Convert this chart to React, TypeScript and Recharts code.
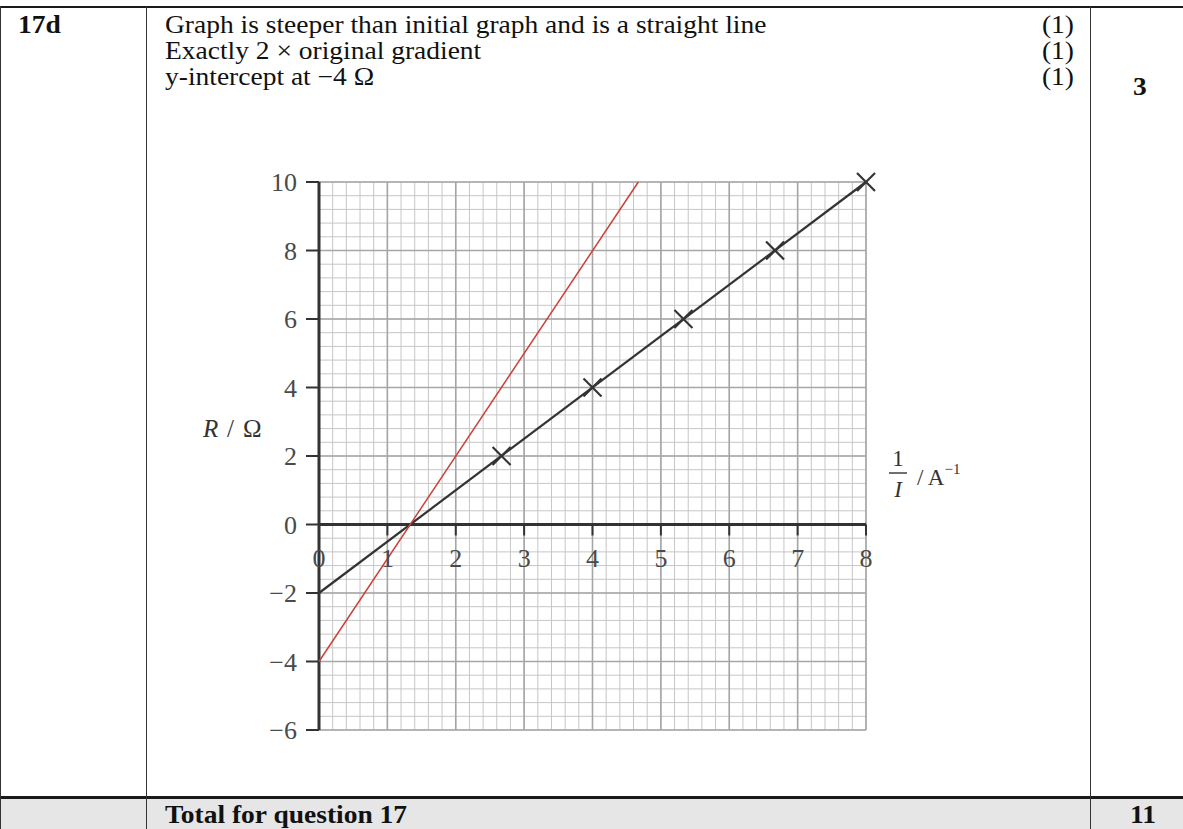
import React from 'react'
import { ComposedChart, XAxis, YAxis, Scatter, ReferenceLine, ReferenceDot } from 'recharts'

const invCurrent = [2.67, 4, 5.33, 6.67, 8]
const resistance = [2, 4, 6, 8, 10]

// original best-fit line (end points)
const originalX = [0, 8]
const originalR = [-2, 10]

// new line: twice the gradient, intercept at -4
const steeperX = [0, 4.67]
const steeperR = [-4, 10]

const xTicks = [0, 1, 2, 3, 4, 5, 6, 7, 8]
const yTicks = [-6, -4, -2, 0, 2, 4, 6, 8, 10]

const markRows = [
  'Graph is steeper than initial graph and is a straight line',
  'Exactly 2 × original gradient',
  'y-intercept at −4 Ω',
]
const markValues = ['(1)', '(1)', '(1)']

const W = 1183
const H = 829
const serif = '"Liberation Serif", "Times New Roman", serif'
// the scanned text is a little wider than plain Times
const SX = 1.1

const toPoints = (xs: number[], ys: number[]) => xs.map((x, i) => ({ x, y: ys[i] }))

// grid spacing of the graph paper
const steps = (from: number, to: number, step: number) => {
  const out: number[] = []
  for (let i = 0; from + i * step <= to + 1e-9; i++) out.push(Math.round((from + i * step) * 100) / 100)
  return out
}
const minorX = steps(0, 8, 0.2)
const minorY = steps(-6, 10, 0.4)
const majorX = steps(0, 8, 1)
const majorY = steps(-6, 10, 2)

const fmt = (v: number) => (v < 0 ? `−${-v}` : String(v))

function Cross(props: any) {
  const { cx, cy } = props
  const s = 9
  return (
    <g stroke="#333" strokeWidth={2.2}>
      <line x1={cx - s} y1={cy - s} x2={cx + s} y2={cy + s} />
      <line x1={cx - s} y1={cy + s} x2={cx + s} y2={cy - s} />
    </g>
  )
}

const NoDot = () => <g />

function TableFrame() {
  const baselines = [33, 59, 85]
  return (
    <svg width={W} height={H} style={{ position: 'absolute', left: 0, top: 0 }}>
      <rect x={0} y={0} width={W} height={H} fill="#fff" />
      <rect x={0} y={798} width={W} height={H - 798} fill="#e6e6e6" />
      {/* borders */}
      <rect x={0} y={6} width={W} height={2} fill="#1a1a1a" />
      <rect x={0} y={796} width={W} height={3} fill="#1a1a1a" />
      <rect x={0} y={6} width={1} height={H} fill="#333" />
      <rect x={146} y={6} width={1} height={H} fill="#333" />
      <rect x={1090} y={6} width={1} height={H} fill="#333" />

      <g transform={`scale(${SX} 1)`} fontFamily={serif} fontSize={25} fill="#111">
        <text x={18 / SX} y={33} fontWeight="bold">17d</text>
        {markRows.map((t, i) => (
          <text key={t} x={165 / SX} y={baselines[i]}>{t}</text>
        ))}
        {markValues.map((t, i) => (
          <text key={i} x={1074 / SX} y={baselines[i]} textAnchor="end">{t}</text>
        ))}
        <text x={1133 / SX} y={95} fontWeight="bold">3</text>
        <text x={165 / SX} y={823} fontWeight="bold">Total for question 17</text>
        <text x={1130 / SX} y={823} fontWeight="bold">11</text>
      </g>

      {/* axis titles */}
      <g fontFamily={serif} fontSize={25} fill="#333">
        <text x={203} y={437} fontStyle="italic">R</text>
        <text x={227} y={437}>/</text>
        <text x={243} y={437}>Ω</text>
      </g>
      <g fontFamily={serif} fontSize={23} fill="#333">
        <text x={898} y={466} textAnchor="middle">1</text>
        <line x1={889} y1={473} x2={907} y2={473} stroke="#333" strokeWidth={1.4} />
        <text x={898} y={497} textAnchor="middle" fontStyle="italic">I</text>
        <text x={917} y={485}>
          / A<tspan fontSize={15} dy={-11}>−1</tspan>
        </text>
      </g>
    </svg>
  )
}

export default function App() {
  return (
    <div style={{ position: 'absolute', left: 0, top: 0, width: W, height: H, overflow: 'hidden' }}>
      <TableFrame />
      <div style={{ position: 'absolute', left: 0, top: 0 }}>
        <ComposedChart width={W} height={H} margin={{ top: 182, right: 317, bottom: 99, left: 200 }}>
          <XAxis type="number" dataKey="x" domain={[0, 8]} hide />
          <YAxis
            type="number"
            dataKey="y"
            domain={[-6, 10]}
            ticks={yTicks}
            interval={0}
            width={119}
            tickFormatter={fmt}
            axisLine={{ stroke: '#333', strokeWidth: 3 }}
            tickLine={{ stroke: '#333', strokeWidth: 2 }}
            tickSize={13}
            tickMargin={9}
            tick={{ fill: '#4a4a4a', fontSize: 26, fontFamily: serif }}
          />

          {/* graph paper */}
          {minorX.map((v) => (
            <ReferenceLine key={`mx${v}`} x={v} stroke="#c6c6c6" strokeWidth={1} />
          ))}
          {minorY.map((v) => (
            <ReferenceLine key={`my${v}`} y={v} stroke="#c6c6c6" strokeWidth={1} />
          ))}
          {majorX.map((v) => (
            <ReferenceLine key={`Mx${v}`} x={v} stroke="#a6a6a6" strokeWidth={1.6} />
          ))}
          {majorY.map((v) => (
            <ReferenceLine key={`My${v}`} y={v} stroke="#a6a6a6" strokeWidth={1.6} />
          ))}

          {/* x axis through R = 0 */}
          <ReferenceLine y={0} stroke="#333" strokeWidth={3} />
          {xTicks.filter((t) => t > 0).map((t) => (
            <ReferenceLine key={`xt${t}`} segment={[{ x: t, y: 0 }, { x: t, y: -0.32 }]} stroke="#333" strokeWidth={2} />
          ))}
          {xTicks.map((t) => (
            <ReferenceDot
              key={`xl${t}`}
              x={t}
              y={0}
              r={0}
              fill="none"
              stroke="none"
              label={{ value: String(t), position: 'bottom', offset: 24, fill: '#4a4a4a', fontSize: 26, fontFamily: serif }}
            />
          ))}

          <Scatter
            data={toPoints(originalX, originalR)}
            line={{ stroke: '#333', strokeWidth: 2.2 }}
            shape={NoDot}
            isAnimationActive={false}
          />
          <Scatter
            data={toPoints(steeperX, steeperR)}
            line={{ stroke: '#c8413a', strokeWidth: 1.5 }}
            shape={NoDot}
            isAnimationActive={false}
          />
          <Scatter data={toPoints(invCurrent, resistance)} shape={Cross} isAnimationActive={false} />
        </ComposedChart>
      </div>
    </div>
  )
}
